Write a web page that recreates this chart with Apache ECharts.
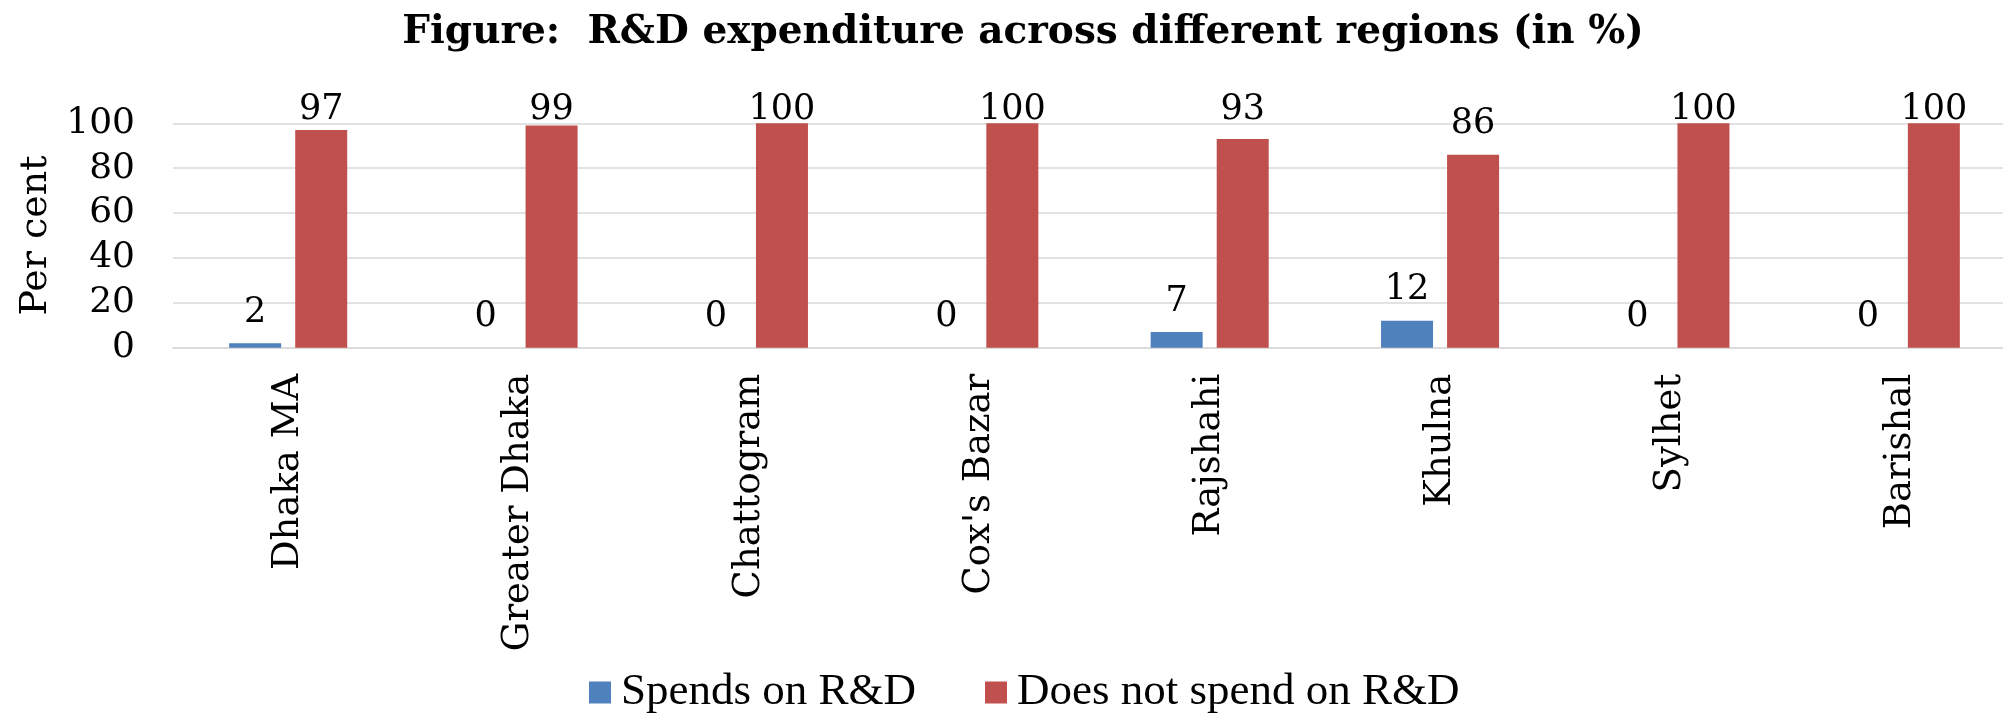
<!DOCTYPE html>
<html>
<head>
<meta charset="utf-8">
<title>R&amp;D expenditure across different regions</title>
<script src="https://cdn.jsdelivr.net/npm/echarts@6/dist/echarts.min.js"></script>
<style>
  html, body { margin: 0; padding: 0; background: #ffffff; }
  #chart { width: 2003px; height: 715px; }
</style>
</head>
<body>
<div id="chart"></div>
<script>
// Regions surveyed
const regions = ['Dhaka MA', 'Greater Dhaka', 'Chattogram', "Cox's Bazar", 'Rajshahi', 'Khulna', 'Sylhet', 'Barishal'];
// Share of firms (%) that spend on R&D
const spendsOnRD = [2, 0, 0, 0, 7, 12, 0, 0];
// Share of firms (%) that do not spend on R&D
const noSpendOnRD = [97, 99, 100, 100, 93, 86, 100, 100];
// Value axis ticks
const yMin = 0, yMax = 100, yStep = 20;

const serif = 'DejaVu Serif';
const gridColor = '#d9d9d9';

// Keep value labels from rising above the top band of the chart
const labelTopLimit = 92;
function keepLabelBelowTop(params) {
  const shift = labelTopLimit - params.labelRect.y;
  return { dy: shift > 0 ? shift : 0 };
}

const barLabel = {
  show: true,
  position: 'top',
  distance: 13,
  color: '#000',
  fontFamily: serif,
  fontSize: 35,
  lineHeight: 35
};

const chart = echarts.init(document.getElementById('chart'), null, { renderer: 'canvas' });

chart.setOption({
  backgroundColor: '#ffffff',
  animation: false,
  title: {
    text: 'Figure:  R&D expenditure across different regions (in %)',
    left: 1023,
    top: 13,
    padding: 0,
    textAlign: 'center',
    textStyle: { fontFamily: serif, fontWeight: 'bold', fontSize: 39, lineHeight: 39, color: '#000' }
  },
  legend: {
    left: 589,
    top: 670,
    padding: 0,
    icon: 'rect',
    itemWidth: 22,
    itemHeight: 22,
    itemGap: 69,
    textStyle: { fontFamily: 'Liberation Serif', fontSize: 45, lineHeight: 44, color: '#000', padding: [0, 0, 0, 5] },
    data: ['Spends on R&D', 'Does not spend on R&D']
  },
  grid: {
    left: 173,
    right: -13,
    top: 123.3,
    height: 224.4,
    containLabel: false,
    outerBoundsMode: 'none'
  },
  xAxis: {
    type: 'category',
    data: regions,
    axisTick: { show: false },
    axisLine: { show: true, lineStyle: { color: gridColor, width: 1.5 } },
    axisLabel: {
      rotate: 90,
      interval: 0,
      margin: 26,
      color: '#000',
      fontFamily: serif,
      fontSize: 37
    }
  },
  yAxis: {
    type: 'value',
    min: yMin,
    max: yMax,
    interval: yStep,
    name: 'Per cent',
    nameLocation: 'middle',
    nameGap: 114,
    nameTextStyle: { fontFamily: serif, fontSize: 38, color: '#000' },
    axisLine: { show: false },
    axisTick: { show: false },
    axisLabel: { margin: 38, color: '#000', fontFamily: serif, fontSize: 36 },
    splitLine: { show: true, lineStyle: { color: gridColor, width: 1.5 } }
  },
  series: [
    {
      name: 'Spends on R&D',
      type: 'bar',
      data: spendsOnRD,
      barWidth: 52,
      barGap: '27%',
      itemStyle: { color: '#4f81bd' },
      label: barLabel,
      labelLayout: keepLabelBelowTop
    },
    {
      name: 'Does not spend on R&D',
      type: 'bar',
      data: noSpendOnRD,
      barWidth: 52,
      barGap: '27%',
      itemStyle: { color: '#c0504d' },
      label: barLabel,
      labelLayout: keepLabelBelowTop
    }
  ]
});
</script>
</body>
</html>
